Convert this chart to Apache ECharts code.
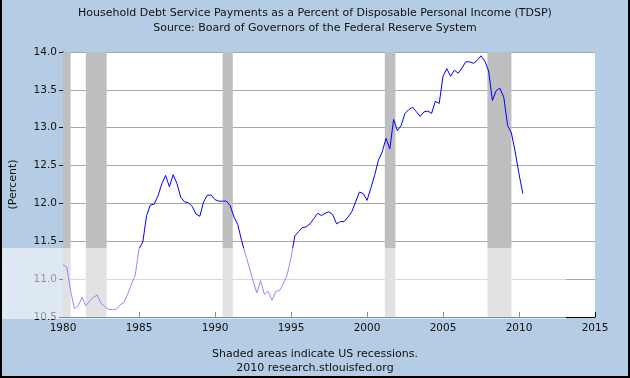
<!DOCTYPE html>
<html>
<head>
<meta charset="utf-8">
<script src="https://cdn.jsdelivr.net/npm/echarts@6/dist/echarts.min.js"></script>
<style>
html,body{margin:0;padding:0;background:#b4cde4;}
#chart{width:630px;height:378px;}
</style>
</head>
<body>
<div id="chart"></div>
<script>
// Quarterly data, 1980Q1 .. 2010Q2
var startYear = 1980;
var stepYears = 0.25;
var tdsp = [
  11.19, 11.16, 10.85, 10.61, 10.65, 10.76, 10.65, 10.71, 10.76, 10.79, 10.68, 10.64,
  10.60, 10.60, 10.60, 10.66, 10.69, 10.80, 10.93, 11.05, 11.40, 11.49, 11.84, 11.98,
  11.99, 12.10, 12.26, 12.37, 12.22, 12.38, 12.26, 12.08, 12.02, 12.01, 11.96, 11.86,
  11.83, 12.02, 12.11, 12.11, 12.05, 12.03, 12.03, 12.03, 11.97, 11.82, 11.72, 11.51,
  11.33, 11.16, 10.98, 10.82, 10.98, 10.80, 10.84, 10.72, 10.84, 10.85, 10.94, 11.06,
  11.28, 11.57, 11.63, 11.68, 11.69, 11.73, 11.80, 11.87, 11.84, 11.87, 11.89, 11.85,
  11.73, 11.76, 11.76, 11.82, 11.89, 12.02, 12.15, 12.13, 12.04, 12.20, 12.37, 12.57,
  12.68, 12.86, 12.72, 13.11, 12.96, 13.03, 13.19, 13.24, 13.27, 13.21, 13.15, 13.21,
  13.22, 13.19, 13.35, 13.32, 13.68, 13.78, 13.68, 13.76, 13.72, 13.79, 13.87, 13.87,
  13.85, 13.89, 13.95, 13.88, 13.75, 13.36, 13.49, 13.52, 13.40, 13.03, 12.93, 12.68,
  12.39, 12.13
];
var recessionStarts = [1980.0, 1981.5, 1990.5, 2001.17, 2007.92];
var recessionEnds   = [1980.5, 1982.87, 1991.17, 2001.87, 2009.5];
var yTicks = ['10.5','11.0','11.5','12.0','12.5','13.0','13.5','14.0'];
var xTicks = ['1980','1985','1990','1995','2000','2005','2010','2015'];
var titleLine1 = 'Household Debt Service Payments as a Percent of Disposable Personal Income (TDSP)';
var titleLine2 = 'Source: Board of Governors of the Federal Reserve System';
var footLine1 = 'Shaded areas indicate US recessions.';
var footLine2 = '2010 research.stlouisfed.org';
var yName = '(Percent)';

var FONT = 'DejaVu Sans';
var seriesData = tdsp.map(function (v, i) { return [startYear + i * stepYears, v]; });
var areas = recessionStarts.map(function (s, i) { return [{ xAxis: s }, { xAxis: recessionEnds[i] }]; });

var chart = echarts.init(document.getElementById('chart'), null, { renderer: 'canvas' });
chart.setOption({
  animation: false,
  backgroundColor: '#b4cde4',
  title: [
    { text: titleLine1, left: 'center', top: 3, textStyle: { fontFamily: FONT, fontSize: 11, fontWeight: 'normal', color: '#111' } },
    { text: titleLine2, left: 'center', top: 18, textStyle: { fontFamily: FONT, fontSize: 11, fontWeight: 'normal', color: '#111' } },
    { text: footLine1, left: 'center', top: 344, textStyle: { fontFamily: FONT, fontSize: 11, fontWeight: 'normal', color: '#111' } },
    { text: footLine2, left: 'center', top: 358, textStyle: { fontFamily: FONT, fontSize: 11, fontWeight: 'normal', color: '#111' } }
  ],
  grid: { left: 60, right: 35, top: 52, bottom: 61, show: true, backgroundColor: '#ffffff', borderWidth: 0 },
  xAxis: {
    type: 'value', min: 1980, max: 2015, interval: 5,
    axisLine: { show: true, lineStyle: { color: '#000', width: 1 } },
    axisTick: { show: true, inside: true, length: 5, lineStyle: { color: '#000' } },
    splitLine: { show: false },
    axisLabel: { fontFamily: FONT, fontSize: 10.5, color: '#111', margin: 6,
      formatter: function (v) { var i = xTicks.indexOf(String(v)); return i >= 0 ? xTicks[i] : ''; } }
  },
  yAxis: {
    type: 'value', min: 10.5, max: 14, interval: 0.5,
    name: yName, nameLocation: 'middle', nameGap: 44, nameRotate: 90,
    nameTextStyle: { fontFamily: FONT, fontSize: 11, color: '#111' },
    axisLine: { show: true, lineStyle: { color: '#000', width: 1 } },
    axisTick: { show: true, inside: false, length: 4, lineStyle: { color: '#000' } },
    splitLine: { show: true, lineStyle: { color: '#a8a8a8', width: 1 } },
    axisLabel: { fontFamily: FONT, fontSize: 10.5, color: '#111', margin: 6,
      formatter: function (v) { return yTicks[Math.round((v - 10.5) / 0.5)]; } }
  },
  series: [{
    type: 'line', data: seriesData, showSymbol: false, symbol: 'none',
    lineStyle: { color: '#0000ff', width: 1 },
    markArea: { silent: true, itemStyle: { color: '#bebebe' }, data: areas }
  }],
  graphic: [
    { type: 'rect', shape: { x: 0, y: 248, width: 566, height: 71 }, style: { fill: 'rgba(255,255,255,0.55)' }, z: 100, silent: true },
    { type: 'rect', shape: { x: 0, y: 0, width: 2, height: 378 }, style: { fill: '#000' }, z: 101 },
    { type: 'rect', shape: { x: 628, y: 0, width: 2, height: 378 }, style: { fill: '#000' }, z: 101 },
    { type: 'rect', shape: { x: 0, y: 376, width: 630, height: 2 }, style: { fill: '#000' }, z: 101 }
  ]
});
</script>
</body>
</html>
